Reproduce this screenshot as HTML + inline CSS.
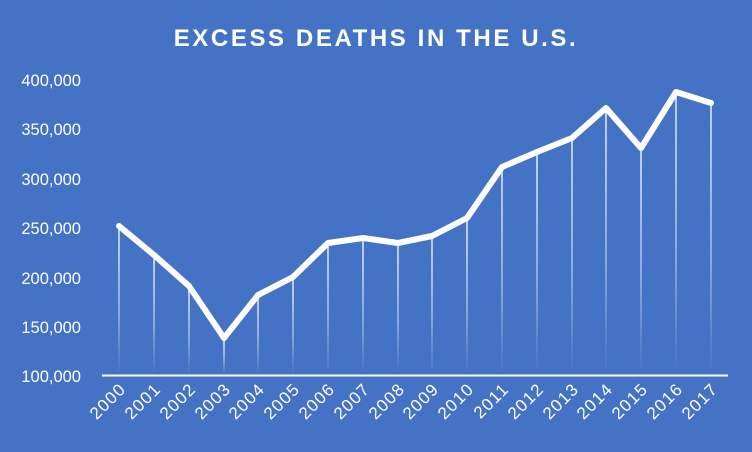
<!DOCTYPE html>
<html><head><meta charset="utf-8"><style>
html,body{margin:0;padding:0;background:#4472C4;}
svg{display:block;}
text{font-family:"Liberation Sans",sans-serif;fill:#fff;}
</style></head><body>
<svg width="752" height="452" viewBox="0 0 752 452">
<defs>
<linearGradient id="g" x1="0" y1="0" x2="0" y2="1">
<stop offset="0" stop-color="#fff" stop-opacity="0.9"/>
<stop offset="0.6" stop-color="#fff" stop-opacity="0.5"/>
<stop offset="1" stop-color="#fff" stop-opacity="0"/>
</linearGradient>
</defs>
<rect width="752" height="452" fill="#4472C4"/>
<text x="376" y="46" text-anchor="middle" font-size="24" font-weight="bold" letter-spacing="2.6">EXCESS DEATHS IN THE U.S.</text>
<g font-size="16.5" text-anchor="end">
<text x="81" y="86">400,000</text>
<text x="81" y="135">350,000</text>
<text x="81" y="185">300,000</text>
<text x="81" y="234">250,000</text>
<text x="81" y="284">200,000</text>
<text x="81" y="333">150,000</text>
<text x="81" y="382">100,000</text>
</g>
<line x1="102" y1="375.5" x2="728" y2="375.5" stroke="#fff" stroke-width="2"/>
<polyline fill="none" stroke="#fff" stroke-width="6" stroke-linejoin="round" stroke-linecap="round"
points="119,226 154,255 189,286 224,338 258,295 293,277 328,243 363,238 398,243 432,236 467,218 502,167 537,152 572,138 606,108 641,148 676,92 711,103"/>
<g stroke="url(#g)" stroke-width="1.5">
<line x1="119" y1="226" x2="119.01" y2="374"/>
<line x1="154" y1="255" x2="154.01" y2="374"/>
<line x1="189" y1="286" x2="189.01" y2="374"/>
<line x1="224" y1="338" x2="224.01" y2="374"/>
<line x1="258" y1="295" x2="258.01" y2="374"/>
<line x1="293" y1="277" x2="293.01" y2="374"/>
<line x1="328" y1="243" x2="328.01" y2="374"/>
<line x1="363" y1="238" x2="363.01" y2="374"/>
<line x1="398" y1="243" x2="398.01" y2="374"/>
<line x1="432" y1="236" x2="432.01" y2="374"/>
<line x1="467" y1="218" x2="467.01" y2="374"/>
<line x1="502" y1="167" x2="502.01" y2="374"/>
<line x1="537" y1="152" x2="537.01" y2="374"/>
<line x1="572" y1="138" x2="572.01" y2="374"/>
<line x1="606" y1="108" x2="606.01" y2="374"/>
<line x1="641" y1="148" x2="641.01" y2="374"/>
<line x1="676" y1="92" x2="676.01" y2="374"/>
<line x1="711" y1="103" x2="711.01" y2="374"/>
</g>
<g font-size="17" text-anchor="end" letter-spacing="1.3">
<text transform="translate(127,390) rotate(-45)">2000</text>
<text transform="translate(162,390) rotate(-45)">2001</text>
<text transform="translate(197,390) rotate(-45)">2002</text>
<text transform="translate(232,390) rotate(-45)">2003</text>
<text transform="translate(266,390) rotate(-45)">2004</text>
<text transform="translate(301,390) rotate(-45)">2005</text>
<text transform="translate(336,390) rotate(-45)">2006</text>
<text transform="translate(371,390) rotate(-45)">2007</text>
<text transform="translate(406,390) rotate(-45)">2008</text>
<text transform="translate(440,390) rotate(-45)">2009</text>
<text transform="translate(475,390) rotate(-45)">2010</text>
<text transform="translate(510,390) rotate(-45)">2011</text>
<text transform="translate(545,390) rotate(-45)">2012</text>
<text transform="translate(580,390) rotate(-45)">2013</text>
<text transform="translate(614,390) rotate(-45)">2014</text>
<text transform="translate(649,390) rotate(-45)">2015</text>
<text transform="translate(684,390) rotate(-45)">2016</text>
<text transform="translate(719,390) rotate(-45)">2017</text>
</g>
</svg>
</body></html>
